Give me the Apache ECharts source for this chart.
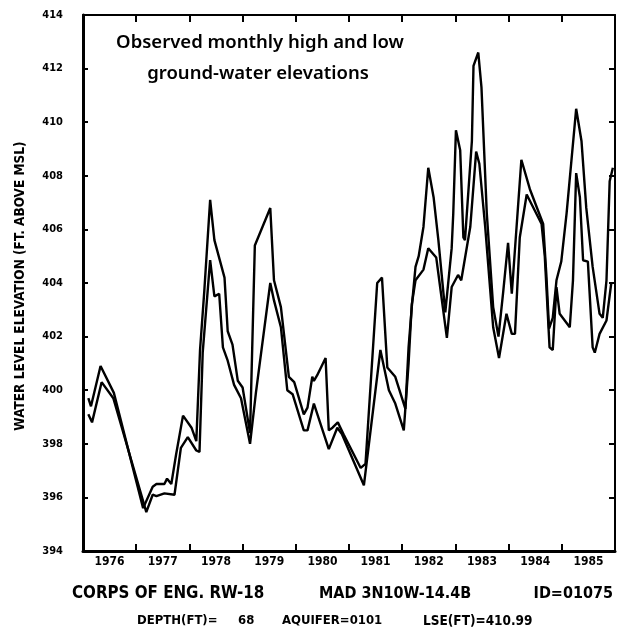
<!DOCTYPE html>
<html>
<head>
<meta charset="utf-8">
<script src="https://cdn.jsdelivr.net/npm/echarts@6/dist/echarts.min.js"></script>
<style>
html,body{margin:0;padding:0;background:#fff;}
#chart{width:618px;height:631px;}
</style>
</head>
<body>
<div id="chart"></div>
<script>
// ---- data ----
const yearLabels = ['1976','1977','1978','1979','1980','1981','1982','1983','1984','1985'];
const yTicks = [394,396,398,400,402,404,406,408,410,412,414];

const highTimes = [1976.10,1976.15,1976.33,1976.58,1977.13,1977.31,1977.38,1977.53,1977.58,1977.66,1977.75,1977.88,1978.04,1978.13,1978.20,1978.28,1978.39,1978.47,1978.66,1978.72,1978.81,1978.91,1979.00,1979.14,1979.23,1979.52,1979.59,1979.72,1979.87,1979.97,1980.15,1980.22,1980.31,1980.34,1980.40,1980.56,1980.62,1980.69,1980.79,1980.90,1981.22,1981.31,1981.53,1981.62,1981.72,1981.87,1982.06,1982.12,1982.18,1982.25,1982.31,1982.40,1982.49,1982.59,1982.68,1982.81,1982.93,1982.96,1983.01,1983.09,1983.15,1983.18,1983.31,1983.34,1983.43,1983.49,1983.59,1983.71,1983.81,1983.90,1983.99,1984.06,1984.24,1984.40,1984.65,1984.71,1984.76,1984.83,1984.90,1984.99,1985.09,1985.27,1985.37,1985.46,1985.58,1985.71,1985.77,1985.84,1985.90,1985.96];
const highValues = [399.7,399.4,400.9,399.9,395.6,396.4,396.5,396.5,396.7,396.5,397.6,399.05,398.6,398.1,401.5,403.7,407.1,405.6,404.2,402.2,401.7,400.35,400.1,398.4,405.4,406.8,404.1,403.1,400.5,400.3,399.1,399.35,400.5,400.35,400.55,401.2,398.5,398.6,398.8,398.35,397.1,397.25,404.0,404.2,400.85,400.5,399.3,401.6,403.1,404.6,405.0,406.1,408.3,407.2,405.6,402.9,405.3,406.6,409.7,408.95,405.7,405.6,409.3,412.1,412.6,411.3,406.6,403.1,402.0,403.7,405.5,403.6,408.6,407.5,406.2,404.3,402.3,402.7,404.1,404.8,406.6,410.5,409.3,406.8,404.6,402.85,402.7,404.1,407.8,408.3];

const lowTimes = [1976.10,1976.17,1976.35,1976.57,1977.19,1977.31,1977.38,1977.53,1977.72,1977.84,1977.97,1978.13,1978.19,1978.25,1978.39,1978.47,1978.56,1978.63,1978.72,1978.84,1978.97,1979.14,1979.25,1979.52,1979.59,1979.72,1979.84,1979.94,1980.15,1980.22,1980.34,1980.62,1980.78,1980.87,1981.28,1981.59,1981.75,1981.87,1982.03,1982.12,1982.18,1982.25,1982.40,1982.49,1982.64,1982.73,1982.84,1982.93,1983.05,1983.11,1983.28,1983.39,1983.45,1983.56,1983.71,1983.82,1983.96,1984.06,1984.12,1984.21,1984.34,1984.62,1984.68,1984.77,1984.83,1984.90,1984.96,1985.15,1985.21,1985.27,1985.34,1985.40,1985.49,1985.58,1985.62,1985.71,1985.84,1985.93];
const lowValues = [399.1,398.8,400.3,399.7,395.45,396.1,396.05,396.15,396.1,397.85,398.25,397.75,397.7,401.4,404.85,403.5,403.6,401.6,401.1,400.2,399.7,398.0,399.9,404.0,403.35,402.35,400.0,399.85,398.5,398.5,399.5,397.8,398.6,398.35,396.45,401.5,400.0,399.5,398.5,401.0,403.2,404.1,404.5,405.3,404.95,403.6,401.95,403.85,404.3,404.1,406.1,408.9,408.45,406.1,402.35,401.2,402.85,402.1,402.1,405.7,407.3,406.2,405.0,401.6,401.5,403.85,402.85,402.35,404.1,408.1,407.2,404.85,404.8,401.6,401.4,402.1,402.6,404.0];

const highData = highTimes.map((t,i)=>[t,highValues[i]]);
const lowData = lowTimes.map((t,i)=>[t,lowValues[i]]);

const chart = echarts.init(document.getElementById('chart'));
const lblFont = 'DejaVu Sans Condensed';
const option = {
  backgroundColor:'#fff',
  animation:false,
  grid:{left:83, top:15, right:3, bottom:80},
  xAxis:[
    {type:'category', data:yearLabels, boundaryGap:true, position:'bottom',
     axisLine:{show:true, lineStyle:{color:'#000', width:3}},
     axisTick:{show:true, inside:true, length:7, lineStyle:{color:'#000', width:2}},
     axisLabel:{color:'#000', fontFamily:lblFont, fontWeight:'bold', fontSize:12, margin:5},
     splitLine:{show:false}},
    {type:'value', min:1976, max:1986, interval:1, position:'top',
     axisLine:{show:true, lineStyle:{color:'#000', width:2}},
     axisTick:{show:true, inside:true, length:7, lineStyle:{color:'#000', width:2}},
     axisLabel:{show:false}, splitLine:{show:false}}
  ],
  yAxis:[
    {type:'value', min:394, max:414, interval:2, position:'left',
     axisLine:{show:true, lineStyle:{color:'#000', width:3}},
     axisTick:{show:true, inside:true, length:5, lineStyle:{color:'#000', width:2}},
     axisLabel:{color:'#000', fontFamily:lblFont, fontWeight:'bold', fontSize:11, margin:20,
       formatter:(v)=> yTicks.includes(v) ? String(v) : ''},
     splitLine:{show:false}},
    {type:'value', min:394, max:414, interval:2, position:'right',
     axisLine:{show:true, lineStyle:{color:'#000', width:2}},
     axisTick:{show:true, inside:true, length:6, lineStyle:{color:'#000', width:2}},
     axisLabel:{show:false}, splitLine:{show:false}}
  ],
  series:[
    {name:'High', type:'line', xAxisIndex:1, yAxisIndex:0, data:highData, showSymbol:false,
     lineStyle:{color:'#000', width:2.4}},
    {name:'Low', type:'line', xAxisIndex:1, yAxisIndex:0, data:lowData, showSymbol:false,
     lineStyle:{color:'#000', width:2.4}}
  ],
  graphic:[
    {type:'text', position:[260,43], style:{text:'Observed monthly high and low', x:0, y:0, fill:'#000', font:'600 18.5px "Noto Sans"', textAlign:'center', textVerticalAlign:'middle'}},
    {type:'text', position:[258,74], style:{text:'ground-water elevations', x:0, y:0, fill:'#000', font:'600 18.5px "Noto Sans"', textAlign:'center', textVerticalAlign:'middle'}},
    {type:'text', rotation:Math.PI/2, position:[20,286], style:{text:'WATER LEVEL ELEVATION (FT. ABOVE MSL)', x:0, y:0, fill:'#000', font:'bold 13.5px "DejaVu Sans Condensed"', textAlign:'center', textVerticalAlign:'middle'}},
    {type:'text', position:[72,594], style:{text:'CORPS OF ENG. RW-18', x:0, y:0, fill:'#000', font:'bold 16.8px "DejaVu Sans Condensed"', textAlign:'left', textVerticalAlign:'middle'}},
    {type:'text', position:[319,594], style:{text:'MAD 3N10W-14.4B', x:0, y:0, fill:'#000', font:'bold 16px "DejaVu Sans Condensed"', textAlign:'left', textVerticalAlign:'middle'}},
    {type:'text', position:[613,594], style:{text:'ID=01075', x:0, y:0, fill:'#000', font:'bold 16px "DejaVu Sans Condensed"', textAlign:'right', textVerticalAlign:'middle'}},
    {type:'text', position:[137,621], style:{text:'DEPTH(FT)=', x:0, y:0, fill:'#000', font:'bold 13px "DejaVu Sans Condensed"', textAlign:'left', textVerticalAlign:'middle'}},
    {type:'text', position:[238,621], style:{text:'68', x:0, y:0, fill:'#000', font:'bold 13px "DejaVu Sans Condensed"', textAlign:'left', textVerticalAlign:'middle'}},
    {type:'text', position:[282,621], style:{text:'AQUIFER=0101', x:0, y:0, fill:'#000', font:'bold 13px "DejaVu Sans Condensed"', textAlign:'left', textVerticalAlign:'middle'}},
    {type:'text', position:[423,621], style:{text:'LSE(FT)=410.99', x:0, y:0, fill:'#000', font:'bold 13.5px "DejaVu Sans Condensed"', textAlign:'left', textVerticalAlign:'middle'}}
  ]
};
chart.setOption(option);
</script>
</body>
</html>
